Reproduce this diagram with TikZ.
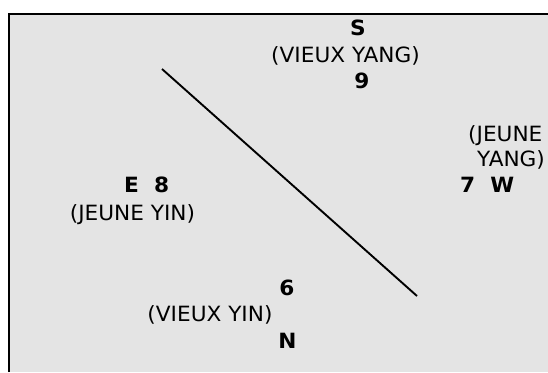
\documentclass[tikz,border=0pt]{standalone}
\usepackage{fontspec}
\newfontfamily\vfont[FakeStretch=1.03]{DejaVu Sans}
\definecolor{bggray}{HTML}{E4E4E4}
\begin{document}
\begin{tikzpicture}[x=1pt,y=-1pt,
  lbl/.style={inner sep=0pt,font=\vfont\fontsize{21}{23}\selectfont,text=black},
  blbl/.style={lbl,font=\vfont\bfseries\fontsize{21}{23}\selectfont}]
\useasboundingbox (0,0) rectangle (548,372);
\fill[bggray] (9.3,13.5) rectangle (548,372);
\draw[line width=2pt] (9.3,372) -- (9.3,13.5) -- (548,13.5);
\coordinate (p1) at (162,69);
\coordinate (p2) at (417,296);
\draw[line width=1.9pt] (p1) -- (p2);
% South
\node[blbl,anchor=base] (s) at (358,35.5) {S};
\node[lbl,anchor=base] (vyang) at (345.5,62) {(VIEUX YANG)};
\node[blbl,anchor=base] (nine) at (362,88) {9};
% West
\node[lbl,anchor=base west] (jy1) at (468,141) {(JEUNE};
\node[lbl,anchor=base west] (jy2) at (477,166) {YANG)};
\node[blbl,anchor=base west] (w) at (460,192) {7\ \ W};
% East
\node[blbl,anchor=base west] (e) at (124,192) {E\ \ 8};
\node[lbl,anchor=base] (jyin) at (132.5,220) {(JEUNE YIN)};
% North
\node[blbl,anchor=base] (six) at (287,295) {6};
\node[lbl,anchor=base] (vyin) at (210,321) {(VIEUX YIN)};
\node[blbl,anchor=base] (n) at (287.5,348) {N};
\end{tikzpicture}
\end{document}
